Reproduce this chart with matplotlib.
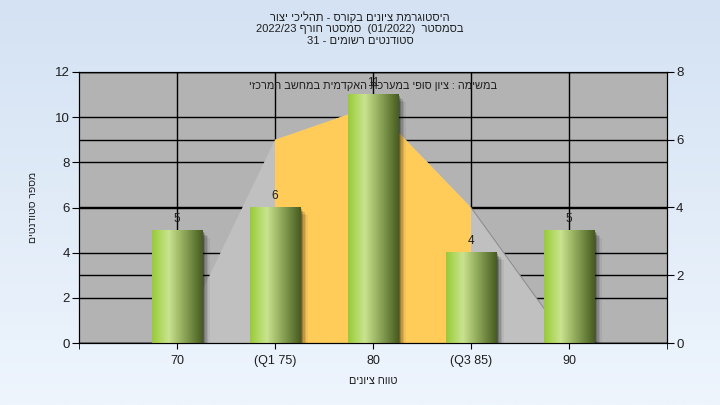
import numpy as np
import matplotlib.pyplot as plt
import matplotlib.transforms as mtransforms
from matplotlib.colors import LinearSegmentedColormap
from matplotlib.patches import Polygon, Rectangle

plt.rcParams['font.family'] = ['Liberation Sans', 'DejaVu Sans']

# ======= data =======
categories = ["70", "(Q1 75)", "80", "(Q3 85)", "90"]
counts = [5, 6, 11, 4, 5]          # left axis: number of students
curve = [0, 6, 7, 4, 0]            # right axis: distribution shape
q1_idx, q3_idx = 1, 3

title_lines = ["היסטוגרמת ציונים בקורס - תהליכי יצור",
               "בסמסטר  (01/2022)  סמסטר חורף 2022/23",
               "סטודנטים רשומים - 31"]
task_text = "במשימה : ציון סופי במערכת האקדמית במחשב המרכזי"
xlabel_text = "טווח ציונים"
ylabel_text = "מספר סטודנטים"


def heb(s):
    # matplotlib has no bidi: put right-to-left text in visual order
    out = []
    for tok in reversed(s.split(' ')):
        if any('\u0590' <= c <= '\u05ff' for c in tok):
            out.append(tok[::-1])
        else:
            out.append(tok)
    return ' '.join(out)


pos = np.arange(1, len(categories) + 1)
txt = '#1e1e1e'

fig = plt.figure(figsize=(7.2, 4.05), dpi=100)

# background gradient
bg = fig.add_axes([0, 0, 1, 1], zorder=-10)
bg.axis('off')
bg_cmap = LinearSegmentedColormap.from_list('bg', ['#d4e2f3', '#eef5fd'])
bg.imshow(np.linspace(0, 1, 256).reshape(-1, 1), cmap=bg_cmap, aspect='auto',
          extent=[0, 1, 0, 1])

ax = fig.add_axes([79 / 720, 1 - 343 / 405, 588 / 720, 271 / 405])
ax2 = ax.twinx()
ax.set_facecolor('#b3b3b3')

# grid (left ticks + category positions)
ax.set_axisbelow(True)
ax.grid(True, color='black', lw=1)
right_ticks = [0, 2, 4, 6, 8]
blend = mtransforms.blended_transform_factory(ax.transAxes, ax2.transData)
for v in right_ticks:
    ax.plot([0, 1], [v, v], transform=blend, color='black', lw=1, zorder=0.6)

# distribution area (right axis scale)
full = [(pos[0], 0)] + list(zip(pos, curve)) + [(pos[-1], 0)]
ax.add_patch(Polygon(full, closed=True, facecolor='#c0c0c0', edgecolor='none',
                     transform=ax2.transData, zorder=1))
mid = ([(pos[q1_idx], 0)] + list(zip(pos[q1_idx:q3_idx + 1], curve[q1_idx:q3_idx + 1]))
       + [(pos[q3_idx], 0)])
ax.add_patch(Polygon(mid, closed=True, facecolor='#ffcc5a', edgecolor='none',
                     transform=ax2.transData, zorder=1.2))
ax.plot(pos[q3_idx:], curve[q3_idx:], transform=ax2.transData, color='#8a8a8a',
        lw=0.7, zorder=1.3)

# bars with gradient + shadow
green = LinearSegmentedColormap.from_list(
    'g', [(0, '#98c93c'), (0.12, '#aad556'), (0.33, '#c9e38f'),
          (0.6, '#93ad5e'), (1, '#465b1f')])
grad = np.linspace(0, 1, 256).reshape(1, -1)
w = 0.52
for p, h in zip(pos, counts):
    x0 = p - w / 2
    for d, a in [(1.5, 0.25), (3, 0.18), (4.5, 0.13), (6, 0.09), (7.5, 0.05)]:
        off = mtransforms.ScaledTranslation(d / 100, -d / 100, fig.dpi_scale_trans)
        ax.add_patch(Rectangle((x0, 0), w, h, facecolor='black', alpha=a, lw=0,
                               transform=ax.transData + off, zorder=2.5))
    ax.imshow(grad, cmap=green, aspect='auto', extent=[x0, x0 + w, 0, h],
              interpolation='bilinear', zorder=3)
    ax.annotate(str(h), (p, h), xytext=(0, 4), textcoords='offset points',
                ha='center', va='bottom', fontsize=8.5, color=txt, zorder=4)

ax.text(3, 11.4, heb(task_text), ha='center', va='center', fontsize=7.8,
        color=txt, zorder=5)

ax.set_xlim(0, 6)
ax.set_ylim(0, 12)
ax2.set_ylim(0, 8)
ax.set_xticks(pos)
ax.set_xticklabels(categories)
ax.set_xticks([0, 6], minor=True)
ax.set_yticks(range(0, 13, 2))
ax2.set_yticks(right_ticks)

for a in (ax, ax2):
    for s in a.spines.values():
        s.set_color('black')
ax.tick_params(axis='x', which='both', length=4, pad=4.5, labelsize=9, labelcolor=txt)
ax.tick_params(axis='y', length=5, pad=1.5, labelsize=9.5, labelcolor=txt)
ax2.tick_params(axis='y', length=5, pad=1.5, labelsize=9.5, labelcolor=txt)

ax.set_xlabel(heb(xlabel_text), fontsize=7.8, color=txt, va='center')
ax.xaxis.set_label_coords(0.5, -0.14)
ax.set_ylabel(heb(ylabel_text), fontsize=7.5, color=txt, va='center', ha='center')
ax.yaxis.set_label_coords(-0.078, 0.5)

for i, line in enumerate(title_lines):
    fig.text(0.5, 1 - (17 + 12 * i) / 405, heb(line), ha='center', va='center',
             fontsize=8, color=txt)

fig.savefig('out.png', dpi=100)
